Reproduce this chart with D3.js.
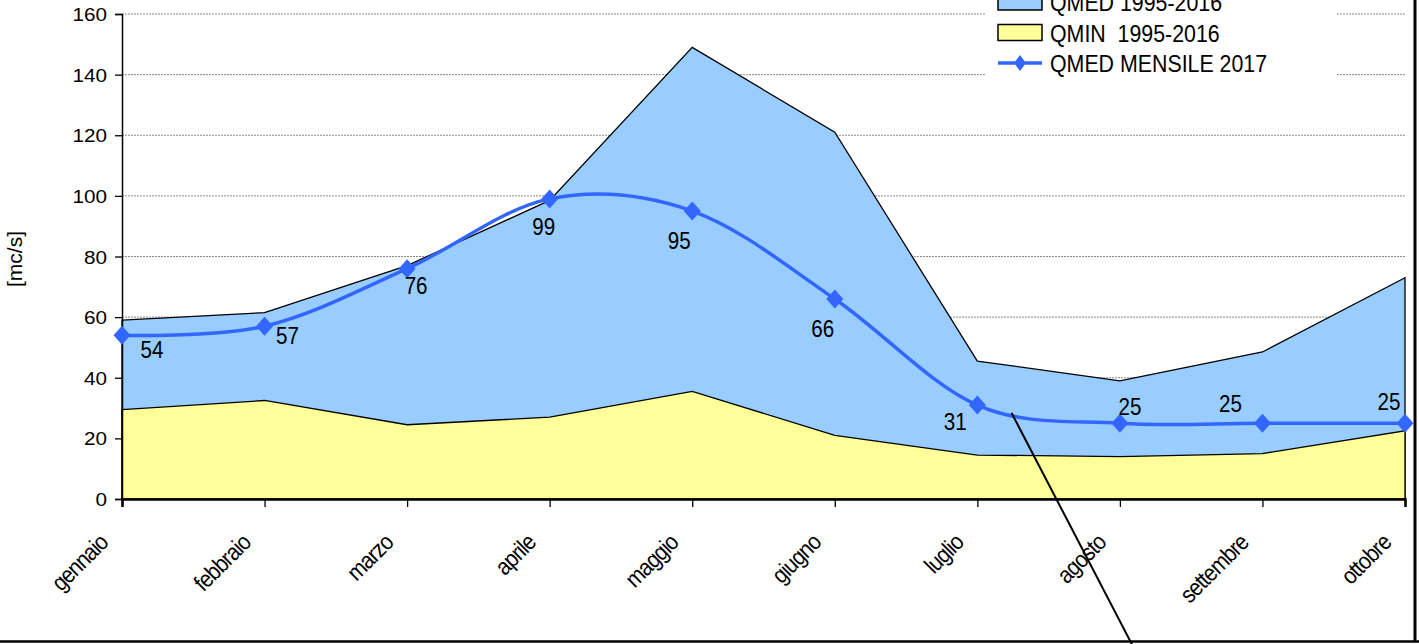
<!DOCTYPE html>
<html>
<head>
<meta charset="utf-8">
<script src="https://cdn.jsdelivr.net/npm/d3@7"></script>
<style>
  html, body { margin: 0; padding: 0; background: #fff; }
  svg { display: block; font-family: "Liberation Sans", Arial, sans-serif; }
</style>
</head>
<body>
<svg id="chart" width="1419" height="644"></svg>
<script>
// Monthly discharge: long-term mean and minimum (1995-2016) vs. 2017 monthly mean
const months = ["gennaio", "febbraio", "marzo", "aprile", "maggio", "giugno", "luglio", "agosto", "settembre", "ottobre"];
const qmedStorico = [59, 61.5, 77, 98.5, 149, 121, 45.5, 39, 48.5, 73];
const qminStorico = [29.5, 32.5, 24.5, 27, 35.5, 21, 14.5, 14, 15, 22.5];
const qmed2017 = [54, 57, 76, 99, 95, 66, 31, 25, 25, 25];
const yTicks = [0, 20, 40, 60, 80, 100, 120, 140, 160];
const legendLabels = ["QMED 1995-2016", "QMIN  1995-2016", "QMED MENSILE 2017"];

// Data-label placement around each marker (dx, dy of the text baseline centre)
const labelOffsets = [[30, 23], [23, 18], [9, 25], [-6, 36], [-13, 38], [-12, 38], [-22, 25], [10, -8], [-32, -11], [-16, -13]];

const FONT = '"Liberation Sans", Arial, sans-serif';
const svg = d3.select("#chart");
const W = 1419, H = 644;
const plot = { left: 122, right: 1405, top: 14, bottom: 499 };

const x = d3.scaleLinear().domain([0, months.length - 1]).range([plot.left, plot.right]);
const y = d3.scaleLinear().domain([0, 160]).range([plot.bottom, plot.top]);

const BLUE = "#3366FF";

// Horizontal gridlines
svg.append("g")
  .selectAll("line")
  .data(yTicks.filter(v => v > 0))
  .join("line")
  .attr("x1", plot.left).attr("x2", plot.right)
  .attr("y1", d => y(d)).attr("y2", d => y(d))
  .attr("stroke", "#8a8a8a").attr("stroke-width", 1)
  .attr("stroke-dasharray", "2,1");

// Historical mean and minimum areas (both drawn from zero)
const area = d3.area().x((d, i) => x(i)).y0(y(0)).y1(d => y(d));
svg.append("path").datum(qmedStorico)
  .attr("d", area).attr("fill", "#99CCFF")
  .attr("stroke", "#000").attr("stroke-width", 1.3);
svg.append("path").datum(qminStorico)
  .attr("d", area).attr("fill", "#FFFF99")
  .attr("stroke", "#000").attr("stroke-width", 1.3);

// Y axis
const yAxis = svg.append("g")
  .attr("transform", `translate(${plot.left},0)`)
  .attr("font-family", FONT)
  .call(d3.axisLeft(y).tickValues(yTicks).tickSize(7).tickPadding(9).tickFormat(d3.format("d")));
yAxis.select(".domain").attr("stroke", "#000").attr("stroke-width", 1.5);
yAxis.selectAll(".tick line").attr("stroke", "#000").attr("stroke-width", 1.3);
yAxis.selectAll(".tick text")
  .attr("x", null).attr("dy", null)
  .attr("fill", "#000").attr("font-size", 18)
  .attr("text-anchor", "end")
  .attr("transform", "translate(-15,6.5) scale(1.15,1)");

// X axis
const xAxis = svg.append("g")
  .attr("transform", `translate(0,${plot.bottom})`)
  .attr("font-family", FONT)
  .call(d3.axisBottom(x).tickValues(d3.range(months.length)).tickSize(8).tickFormat(i => months[i]));
xAxis.select(".domain").attr("stroke", "#000").attr("stroke-width", 2.5);
xAxis.selectAll(".tick line").attr("stroke", "#000").attr("stroke-width", 1.3);
xAxis.selectAll(".tick text")
  .attr("y", null).attr("dy", null)
  .attr("fill", "#000").attr("font-size", 21)
  .attr("text-anchor", "end")
  .attr("letter-spacing", "-0.9")
  .attr("transform", "translate(-13,45) rotate(-45) scale(1,1.12)");

// Y axis title
svg.append("text")
  .attr("transform", "translate(22,259) rotate(-90)")
  .attr("text-anchor", "middle")
  .attr("font-size", 21)
  .attr("fill", "#000")
  .text("[mc/s]");

// 2017 monthly mean: smoothed line with diamond markers
const line = d3.line().x((d, i) => x(i)).y(d => y(d)).curve(d3.curveCardinal.tension(0));
svg.append("path").datum(qmed2017)
  .attr("d", line).attr("fill", "none")
  .attr("stroke", BLUE).attr("stroke-width", 3.5).attr("stroke-linejoin", "round");

const diamond = (hw, hh) => `M0,${-hh}L${hw},0L0,${hh}L${-hw},0Z`;
svg.append("g").selectAll("path")
  .data(qmed2017)
  .join("path")
  .attr("transform", (d, i) => `translate(${x(i)},${y(d)})`)
  .attr("d", diamond(8.5, 9.5))
  .attr("fill", BLUE);

// Value labels
svg.append("g").selectAll("text")
  .data(qmed2017)
  .join("text")
  .attr("transform", (d, i) => `translate(${x(i) + labelOffsets[i][0]},${y(d) + labelOffsets[i][1]}) scale(0.86,1)`)
  .attr("text-anchor", "middle")
  .attr("font-size", 24)
  .attr("fill", "#000")
  .text(d => d3.format("d")(d));

// Legend (white box over the gridlines)
const legend = svg.append("g").attr("transform", "translate(985,0)");
legend.append("rect").attr("x", 0).attr("y", -5).attr("width", 352).attr("height", 90).attr("fill", "#fff");
const swatchFills = ["#99CCFF", "#FFFF99"];
legendLabels.forEach((lab, i) => {
  const cy = 2 + i * 30.5;
  if (i < 2) {
    legend.append("rect")
      .attr("x", 13).attr("y", cy - 8).attr("width", 44).attr("height", 16)
      .attr("fill", swatchFills[i]).attr("stroke", "#000").attr("stroke-width", 1.5);
  } else {
    legend.append("line")
      .attr("x1", 13).attr("x2", 57).attr("y1", cy).attr("y2", cy)
      .attr("stroke", BLUE).attr("stroke-width", 3.5);
    legend.append("path")
      .attr("transform", `translate(35,${cy})`)
      .attr("d", diamond(6, 8)).attr("fill", BLUE);
  }
  legend.append("text")
    .attr("transform", `translate(65,${cy + 9}) scale(0.89,1)`)
    .attr("font-size", 24)
    .attr("fill", "#000")
    .style("white-space", "pre")
    .text(lab);
});

// Leader line from the July-August stretch down past the axis
const leader = { from: [6.24, 28.4], to: [7.085, -48] };
svg.append("line")
  .attr("x1", x(leader.from[0])).attr("y1", y(leader.from[1]))
  .attr("x2", x(leader.to[0])).attr("y2", y(leader.to[1]))
  .attr("stroke", "#000").attr("stroke-width", 2);

// Outer frame (right and bottom edges)
svg.append("line").attr("x1", 1415).attr("x2", 1415).attr("y1", 0).attr("y2", 642)
  .attr("stroke", "#000").attr("stroke-width", 3);
svg.append("line").attr("x1", 0).attr("x2", W).attr("y1", 641.5).attr("y2", 641.5)
  .attr("stroke", "#000").attr("stroke-width", 2.5);
</script>
</body>
</html>
